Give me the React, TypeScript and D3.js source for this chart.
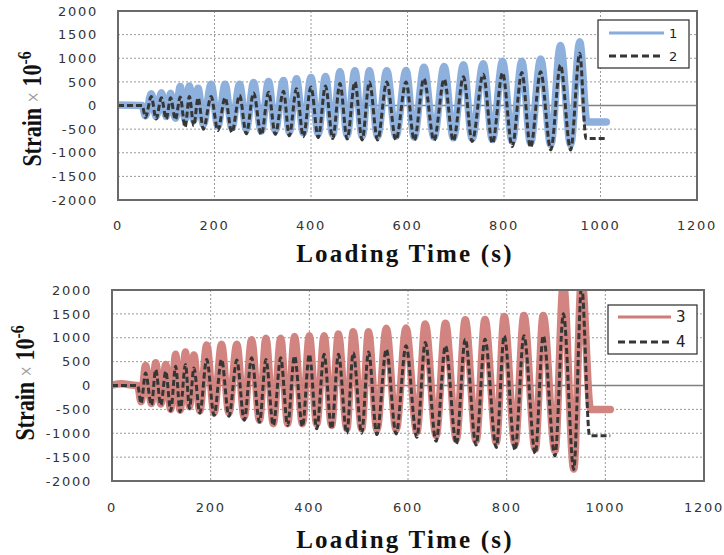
import React from "react";
import * as d3 from "d3";

// ---- data: extreme points (time s, strain ×10^-6) ----
const series1: [number, number][] = [
  [0, 10], [50, 0], [57, -220], [69, 250], [79, -235], [90, 270], [100, -235], [109, 257], [119, -270], [129, 400],
  [139, -290], [148, 415], [157, -310], [166, 365], [177, -400], [193, 450], [207, -435], [222, 450], [236, -470],
  [252, 450], [266, -507], [281, 485], [297, -543], [312, 507], [326, -530], [343, 528], [355, -564], [370, 564],
  [384, -578], [400, 592], [415, -600], [430, 614], [445, -614], [460, 714], [475, -628], [491, 735], [506, -650],
  [521, 735], [538, -650], [557, 735], [576, -650], [597, 742], [614, -670], [634, 807], [655, -670], [676, 828],
  [695, -685], [716, 864], [734, -700], [757, 885], [776, -720], [797, 935], [817, -757], [837, 935], [855, -790],
  [876, 985], [897, -830], [917, 1270], [938, -830], [957, 1350], [972, -350], [1012, -350],
];
const series2: [number, number][] = [
  [0, 0], [50, 0], [57, -250], [69, 190], [79, -285], [90, 165], [100, -285], [109, 165], [119, -300], [129, 180],
  [139, -460], [148, 190], [157, -430], [166, 165], [177, -500], [193, 190], [207, -530], [222, 165], [236, -570],
  [252, 215], [266, -600], [281, 265], [297, -620], [312, 280], [326, -610], [343, 300], [355, -640], [370, 357],
  [384, -660], [400, 390], [415, -680], [430, 414], [445, -700], [460, 464], [475, -710], [491, 500], [506, -730],
  [521, 500], [538, -730], [557, 500], [576, -730], [597, 500], [614, -740], [634, 570], [655, -740], [676, 557],
  [695, -750], [716, 607], [734, -760], [757, 664], [776, -800], [797, 692], [817, -870], [837, 700], [855, -890],
  [876, 714], [897, -940], [917, 857], [938, -940], [957, 1107], [970, -700], [1012, -700],
];
const series3: [number, number][] = [
  [0, 10], [20, 35], [40, 10], [52, 0], [59, -340], [68, 420], [80, -375], [88.6, 475], [99, -390], [109, 440],
  [119, -500], [129, 652], [138, -517], [149, 700], [157, -446], [166, 638], [178, -532], [192, 850], [207, -575],
  [222, 865], [237, -575], [253, 865], [268, -660], [283, 957], [299, -730], [312, 992], [327, -800], [342, 992],
  [356, -800], [370, 1028], [386, -800], [400, 1042], [415, -815], [430, 1042], [445, -836], [459, 1078], [476, -907],
  [489, 1127], [506, -907], [520, 1127], [537, -929], [556, 1198], [576, -929], [596, 1205], [618, -978], [635, 1290],
  [657, -1050], [676, 1305], [698, -1120], [716, 1375], [738, -1156], [756, 1382], [779, -1191], [795, 1446],
  [817, -1226], [835, 1467], [858, -1333], [874, 1467], [898, -1368], [915, 2150], [936, -1750], [952, 2300],
  [970, -500], [1010, -500],
];
const series4: [number, number][] = [
  [0, 0], [52, 0], [59, -375], [68, 262], [80, -410], [88.6, 333], [99, -410], [109, 298], [119, -530], [129, 404],
  [138, -550], [149, 440], [157, -480], [166, 369], [178, -575], [192, 546], [207, -625], [222, 546], [237, -645],
  [253, 532], [268, -730], [283, 581], [299, -765], [312, 546], [327, -835], [342, 581], [356, -835], [370, 617],
  [386, -860], [400, 652], [415, -907], [430, 652], [445, -907], [459, 652], [476, -1000], [489, 688], [506, -1000],
  [520, 700], [537, -1028], [556, 759], [576, -1014], [596, 830], [618, -1085], [635, 900], [657, -1170], [676, 830],
  [698, -1227], [716, 971], [738, -1248], [756, 971], [779, -1297], [795, 1042], [817, -1354], [835, 1042],
  [858, -1425], [874, 1042], [898, -1475], [915, 1503], [936, -1758], [952, 2100], [968, -1050], [1010, -1050],
];

const xTicks = [0, 200, 400, 600, 800, 1000, 1200];
const yTicks = [2000, 1500, 1000, 500, 0, -500, -1000, -1500, -2000];
const topLegend = ["1", "2"];
const bottomLegend = ["3", "4"];

const BLUE = "#88acdb";
const RED = "#d07d79";
const DARK = "#363636";
const TICK_FONT = "'DejaVu Sans', Verdana, sans-serif";
const TITLE_FONT = "'Liberation Serif', 'Times New Roman', serif";

type PanelProps = {
  id: string;
  left: number; right: number; top: number; bottom: number;
  solid: [number, number][]; dashed: [number, number][];
  color: string; labels: string[];
  yLabelRight: number; xLabelY: number; xTitleX: number; xTitleY: number; yTitleX: number; yTitleY: number;
  legend: { x0: number; x1: number; y0: number; y1: number; lx0: number; lx1: number; ly: number[]; tx: number; fs: number };
};

function Panel(p: PanelProps) {
  const x = d3.scaleLinear().domain([0, 1200]).range([p.left, p.right]);
  const y = d3.scaleLinear().domain([-2000, 2000]).range([p.bottom, p.top]);
  const line = d3.line<[number, number]>().x((d) => x(d[0])).y((d) => y(d[1])).curve(d3.curveMonotoneX);
  const clip = `clip-${p.id}`;
  return (
    <g>
      <defs>
        <clipPath id={clip}>
          <rect x={p.left} y={p.top} width={p.right - p.left} height={p.bottom - p.top} />
        </clipPath>
      </defs>
      <rect x={p.left} y={p.top} width={p.right - p.left} height={p.bottom - p.top} fill="#fff" />
      {yTicks.filter((v) => v !== 0 && v !== 2000 && v !== -2000).map((v) => (
        <line key={"h" + v} x1={p.left} x2={p.right} y1={y(v)} y2={y(v)} stroke="#9a9a9a" strokeWidth={1} strokeDasharray="2,2" />
      ))}
      {xTicks.filter((v) => v !== 0 && v !== 1200).map((v) => (
        <line key={"v" + v} x1={x(v)} x2={x(v)} y1={p.top} y2={p.bottom} stroke="#9a9a9a" strokeWidth={1} strokeDasharray="2,2" />
      ))}
      <line x1={p.left} x2={p.right} y1={y(0)} y2={y(0)} stroke="#808080" strokeWidth={1.5} />
      <g clipPath={`url(#${clip})`}>
        <path d={line(p.solid) || ""} fill="none" stroke={p.color} strokeWidth={7.5} strokeOpacity={0.95} strokeLinejoin="round" strokeLinecap="round" />
        <path d={line(p.dashed) || ""} fill="none" stroke={DARK} strokeWidth={3} strokeDasharray="6,3" strokeLinejoin="round" />
      </g>
      <rect x={p.left} y={p.top} width={p.right - p.left} height={p.bottom - p.top} fill="none" stroke="#6a6a6a" strokeWidth={2} />
      {yTicks.map((v) => (
        <text key={"yl" + v} x={p.yLabelRight} y={y(v)} dy="0.36em" textAnchor="end" fontFamily={TICK_FONT} fontSize={13} letterSpacing={1.7} fill="#333">{v}</text>
      ))}
      {xTicks.map((v) => (
        <text key={"xl" + v} x={x(v)} y={p.xLabelY} dy="0.36em" textAnchor="middle" fontFamily={TICK_FONT} fontSize={13} letterSpacing={1.7} fill="#333">{v}</text>
      ))}
      <text x={p.xTitleX} y={p.xTitleY} textAnchor="middle" fontFamily={TITLE_FONT} fontWeight="bold" fontSize={25} letterSpacing={2.2} fill="#111">Loading Time (s)</text>
      <text transform={`translate(${p.yTitleX},${p.yTitleY}) rotate(-90) scale(0.88,1.1)`} textAnchor="middle" fontFamily={TITLE_FONT} fontWeight="bold" fontSize={25} fill="#111">
        <tspan>Strain </tspan>
        <tspan fontWeight="normal" fill="#9a9a9a" fontSize={21}>×</tspan>
        <tspan> 10</tspan>
        <tspan dy={-9} fontSize={18}>-6</tspan>
      </text>
      <rect x={p.legend.x0} y={p.legend.y0} width={p.legend.x1 - p.legend.x0} height={p.legend.y1 - p.legend.y0} fill="#fff" stroke="#2a2a2a" strokeWidth={1.2} />
      <line x1={p.legend.lx0} x2={p.legend.lx1} y1={p.legend.ly[0]} y2={p.legend.ly[0]} stroke={p.color} strokeWidth={3} />
      <line x1={p.legend.lx0} x2={p.legend.lx1} y1={p.legend.ly[1]} y2={p.legend.ly[1]} stroke={DARK} strokeWidth={3} strokeDasharray="7,4" />
      {p.labels.map((l, i) => (
        <text key={l} x={p.legend.tx} y={p.legend.ly[i]} dy="0.36em" fontFamily={TICK_FONT} fontSize={p.legend.fs} fill="#222">{l}</text>
      ))}
    </g>
  );
}

export default function App() {
  return (
    <svg width={724} height={555} style={{ position: "absolute", left: 0, top: 0, background: "#fff" }}>
      <rect width={724} height={555} fill="#fff" />
      <Panel id="top" left={118} right={697} top={11} bottom={200}
        solid={series1} dashed={series2} color={BLUE} labels={topLegend}
        yLabelRight={98} xLabelY={225} xTitleX={405} xTitleY={262} yTitleX={41} yTitleY={109}
        legend={{ x0: 598, x1: 689, y0: 20, y1: 68, lx0: 609, lx1: 664, ly: [33, 56], tx: 669, fs: 13 }} />
      <Panel id="bot" left={112} right={704} top={290} bottom={481}
        solid={series3} dashed={series4} color={RED} labels={bottomLegend}
        yLabelRight={92} xLabelY={507} xTitleX={405} xTitleY={548} yTitleX={34} yTitleY={383}
        legend={{ x0: 608, x1: 697, y0: 305, y1: 354, lx0: 618, lx1: 671, ly: [317, 342], tx: 676, fs: 15 }} />
    </svg>
  );
}
